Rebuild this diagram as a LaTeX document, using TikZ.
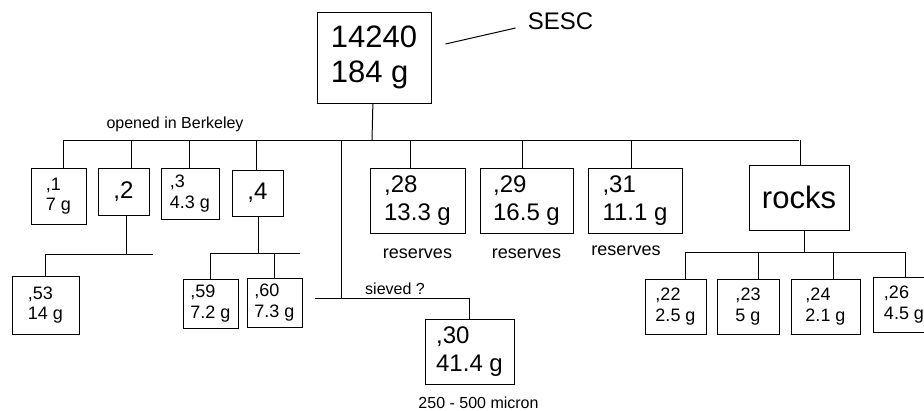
\documentclass[tikz,border=0pt]{standalone}
\usepackage{fontspec}
\setmainfont{Liberation Sans}
\usetikzlibrary{positioning,calc}
\tikzset{box/.style={draw,line width=1pt,align=left,inner sep=0pt}, big/.style={box,font=\fontsize{31}{35}\selectfont}, mid/.style={box,font=\fontsize{24}{28}\selectfont}, sml/.style={box,font=\fontsize{18}{20.5}\selectfont}, lbl/.style={font=\fontsize{16}{18}\selectfont,inner sep=0pt}, res/.style={lbl,font=\fontsize{18}{20}\selectfont}, link/.style={line width=1pt}}
\begin{document}
\begin{tikzpicture}[x=1pt,y=-1pt]
\clip (0,0) rectangle (924,410);
% parent sample
\node[big,minimum width=114pt,minimum height=91pt] (top) at (374,57.5) {14240\\184 g};
\node[lbl,font=\fontsize{24}{26}\selectfont] (sesc) at (560.5,21) {SESC};
\draw[link] ([xshift=14pt,yshift=13.5pt]top.east) -- ([xshift=-12pt,yshift=-7pt]sesc.west);
\coordinate (bar) at (372,140);
\node[lbl] (berk) at (175,124) {opened in Berkeley};
% first split
\node[sml,minimum width=55pt,minimum height=56pt] (n1) at (58.5,196) {,1\\7 g};
\node[mid,minimum width=51pt,minimum height=47pt] (n2) at (123.5,191.5) {,2};
\node[sml,minimum width=58pt,minimum height=51pt] (n3) at (190,193.5) {,3\\4.3 g};
\node[mid,minimum width=51pt,minimum height=46pt] (n4) at (257.5,193) {,4};
\node[mid,minimum width=95pt,minimum height=65pt] (n28) at (417.5,200.5) {,28\\13.3 g};
\node[mid,minimum width=93pt,minimum height=65pt] (n29) at (526.5,200.5) {,29\\16.5 g};
\node[mid,minimum width=94pt,minimum height=65pt] (n31) at (635,200.5) {,31\\11.1 g};
\node[big,minimum width=100pt,minimum height=65pt] (rocks) at (799,197.5) {rocks};
\node[res,below=15pt of n28] (r28) {reserves};
\node[res,below=15pt of n29] (r29) {reserves};
\node[res,below=12pt of n31,xshift=-9pt] (r31) {reserves};
\draw[link] (top) -- (bar);
\draw[link] (n1.north-|63,0) -- (63,0|-bar) -- (rocks|-bar);
\foreach \n/\x in {n2/131,n3/189,n4/256,n28/410,n29/522,n31/631,rocks/800}
  \draw[link] (\n.north-|\x,0) -- (\x,0|-bar);
% second split
\node[sml,minimum width=67pt,minimum height=58pt] (n53) at (45.5,305) {,53\\14 g};
\node[sml,minimum width=55pt,minimum height=49pt] (n59) at (210.5,303.5) {,59\\7.2 g};
\node[sml,minimum width=55pt,minimum height=49pt] (n60) at (274.5,302.5) {,60\\7.3 g};
\coordinate (b2) at (153,254);
\coordinate (b4) at (300,253);
\draw[link] (n2.south-|126,0) -- (126,0|-b2);
\draw[link] (n53) -- (n53|-b2) -- (b2);
\draw[link] (n4.south-|258,0) -- (258,0|-b4);
\draw[link] (n59) -- (n59|-b4) -- (b4);
\draw[link] (n60) -- (n60|-b4);
% sieved fraction
\node[mid,minimum width=89pt,minimum height=65pt] (n30) at (469.5,351.5) {,30\\41.4 g};
\node[lbl,below=12pt of n30,xshift=9pt] (mic) {250 - 500 micron};
\coordinate (sv) at (341,298);
\node[lbl] (sieve) at (395,289) {sieved ?};
\draw[link] (sv|-bar) -- (sv);
\draw[link] ([xshift=-26pt]sv) -- (n30|-sv) -- (n30);
% rocks
\node[sml,minimum width=61pt,minimum height=55pt] (n22) at (675.5,306.5) {,22\\2.5 g};
\node[sml,minimum width=62pt,minimum height=55pt] (n23) at (748,306.5) {,23\\5 g};
\node[sml,minimum width=69pt,minimum height=55pt] (n24) at (825.5,306.5) {,24\\2.1 g};
\node[sml,minimum width=62pt,minimum height=55pt] (n26) at (904,304.5) {,26\\4.5 g};
\coordinate (rb) at (905,252);
\draw[link] (rocks.south-|804,0) -- (804,0|-rb);
\draw[link] (685,0|-rb) -- (rb);
\foreach \n/\x in {n22/685,n23/758,n24/833,n26/905}
  \draw[link] (\n.north-|\x,0) -- (\x,0|-rb);
\end{tikzpicture}
\end{document}
